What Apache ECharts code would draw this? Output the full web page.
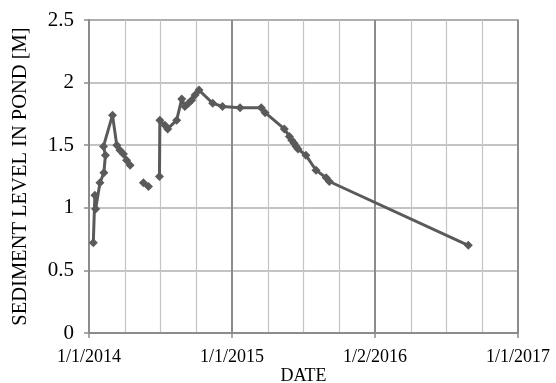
<!DOCTYPE html>
<html>
<head>
<meta charset="utf-8">
<script src="https://cdn.jsdelivr.net/npm/echarts@6/dist/echarts.min.js"></script>
<style>
  html, body { margin: 0; padding: 0; background: #fff; }
  #chart { width: 556px; height: 383px; }
</style>
</head>
<body>
<div id="chart"></div>
<script>
// Survey dates (ISO) and measured sediment level in the pond, in metres.
// null marks breaks where no continuous record exists.
const surveyDates = [
  '2014-01-12', '2014-01-16', '2014-01-18', '2014-01-29', '2014-02-08',
  '2014-02-12', '2014-02-07', '2014-03-02', '2014-03-13', '2014-03-21',
  '2014-03-30', '2014-04-07', '2014-04-16', '2014-05-01', '2014-05-20',
  '2014-06-02', '2014-06-16', '2014-06-30', '2014-07-01', '2014-07-14',
  '2014-07-21', '2014-08-13', '2014-08-26', '2014-09-03', '2014-09-12',
  '2014-09-20', '2014-09-29', '2014-10-09', '2014-11-13', '2014-12-08',
  '2015-01-22', '2015-03-17', '2015-03-27', '2015-05-15', '2015-05-28',
  '2015-06-03', '2015-06-09', '2015-06-14', '2015-06-19', '2015-07-09',
  '2015-08-04', '2015-08-30', '2015-09-07', '2016-08-27'
];
const sedimentLevel = [
  0.72, 1.10, 0.99, 1.20, 1.28,
  1.42, 1.49, 1.74, 1.50, 1.46,
  1.43, 1.38, 1.34, null, 1.20,
  1.17, null, 1.25, 1.70, 1.66,
  1.63, 1.70, 1.87, 1.81, 1.835,
  1.86, 1.90, 1.94, 1.835, 1.81,
  1.80, 1.80, 1.76, 1.63, 1.57,
  1.54, 1.515, 1.49, 1.47, 1.42,
  1.30, 1.24, 1.21, 0.70
];
// Axis tick labels for the date axis (start, three equal steps to the end).
const dateTickLabels = ['1/1/2014', '1/1/2015', '1/2/2016', '1/1/2017'];
const levelTicks = [0, 0.5, 1, 1.5, 2, 2.5];

const origin = Date.UTC(2014, 0, 1);
const spanDays = (Date.UTC(2017, 0, 1) - origin) / 86400000; // 1096
function dayOffset(iso) {
  const p = iso.split('-').map(Number);
  return (Date.UTC(p[0], p[1] - 1, p[2]) - origin) / 86400000;
}

const points = surveyDates.map((d, i) => [dayOffset(d), sedimentLevel[i]]);

const serif = 'Liberation Serif';
const chart = echarts.init(document.getElementById('chart'), null, { renderer: 'canvas' });
chart.setOption({
  animation: false,
  grid: {
    left: 89, right: 38, top: 20, bottom: 50,
    containLabel: false,
    outerBoundsMode: 'none',
    show: true, borderColor: '#8c8c8c', borderWidth: 1.5
  },
  xAxis: {
    type: 'value',
    min: 0,
    max: spanDays,
    interval: spanDays / (dateTickLabels.length - 1),
    name: 'DATE',
    nameLocation: 'middle',
    nameGap: 34,
    nameMoveOverlap: false,
    nameTextStyle: { fontFamily: serif, fontSize: 18, color: '#000' },
    axisLine: { show: true, lineStyle: { color: '#8c8c8c', width: 2 } },
    axisTick: { show: true, length: 5, lineStyle: { color: '#8c8c8c', width: 1.5 } },
    axisLabel: {
      fontFamily: serif, fontSize: 18, color: '#000', margin: 15,
      formatter: v => dateTickLabels[Math.round(v * (dateTickLabels.length - 1) / spanDays)] || ''
    },
    splitLine: { show: true, lineStyle: { color: '#8c8c8c', width: 2 } },
    minorTick: { show: false, splitNumber: 4 },
    minorSplitLine: { show: true, lineStyle: { color: '#c4c4c4', width: 1.2 } }
  },
  yAxis: {
    type: 'value',
    min: levelTicks[0],
    max: levelTicks[levelTicks.length - 1],
    interval: levelTicks[1] - levelTicks[0],
    name: 'SEDIMENT LEVEL IN POND [M]',
    nameLocation: 'middle',
    nameGap: 58,
    nameMoveOverlap: false,
    nameTextStyle: { fontFamily: serif, fontSize: 20.5, color: '#000' },
    axisLine: { show: true, lineStyle: { color: '#8c8c8c', width: 2 } },
    axisTick: { show: true, length: 5, lineStyle: { color: '#8c8c8c', width: 1.5 } },
    axisLabel: {
      fontFamily: serif, fontSize: 21, color: '#000', margin: 15,
      formatter: v => String(v)
    },
    splitLine: { show: true, lineStyle: { color: '#b0b0b0', width: 1.5 } }
  },
  series: [{
    type: 'line',
    data: points,
    connectNulls: false,
    symbol: 'diamond',
    symbolSize: 9,
    showAllSymbol: true,
    lineStyle: { color: '#5a5a5a', width: 3 },
    itemStyle: { color: '#5a5a5a' }
  }]
});
</script>
</body>
</html>
